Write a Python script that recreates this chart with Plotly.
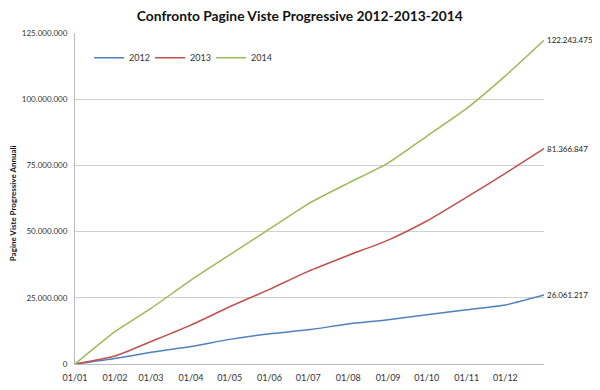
import plotly.graph_objects as go

days = [0, 31, 59, 90, 120, 151, 181, 212, 243, 273, 304, 334, 364]
month_days = [0, 31, 59, 90, 120, 151, 181, 212, 243, 273, 304, 334]
month_labels = ["01/01", "01/02", "01/03", "01/04", "01/05", "01/06",
                "01/07", "01/08", "01/09", "01/10", "01/11", "01/12"]

v2012 = [0, 2100000, 4400000, 6600000, 9300000, 11400000, 12900000,
         15100000, 16700000, 18600000, 20500000, 22300000, 26061217]
v2013 = [0, 3000000, 8500000, 14700000, 21600000, 28200000, 35000000,
         41000000, 46800000, 54000000, 63000000, 72000000, 81366847]
v2014 = [0, 12200000, 21000000, 31700000, 41200000, 51000000, 60500000,
         68300000, 75900000, 86000000, 96500000, 108800000, 122243475]

series = [("2012", v2012, "#4F81BD"), ("2013", v2013, "#C0504D"), ("2014", v2014, "#9BBB59")]

y_ticks = [0, 25000000, 50000000, 75000000, 100000000, 125000000]


def fmt(v):
    return f"{int(v):,}".replace(",", ".")


fig = go.Figure()
for name, vals, col in series:
    fig.add_trace(go.Scatter(x=days, y=vals, mode="lines", name=name,
                             line=dict(color=col, width=1.5, shape="spline", smoothing=0.5)))
    fig.add_annotation(x=days[-1], y=vals[-1], text=fmt(vals[-1]), showarrow=False,
                       xanchor="left", yanchor="middle", xshift=1,
                       font=dict(size=8, color="#222"))

fig.add_annotation(xref="paper", yref="paper", x=-0.132, y=0.486,
                   text="<b>Pagine Viste Progressive Annuali</b>", textangle=-90,
                   showarrow=False, xanchor="center", yanchor="middle",
                   font=dict(size=8, color="#111"))

fig.update_layout(
    width=592, height=382,
    margin=dict(l=67, r=56, t=25, b=26, autoexpand=False),
    paper_bgcolor="white", plot_bgcolor="white",
    font=dict(family="Lato, Open Sans, sans-serif", color="#333"),
    title=dict(text="<b>Confronto Pagine Viste Progressive 2012-2013-2014</b>",
               x=0.493, xanchor="center", y=0.979, yanchor="middle",
               font=dict(size=13.8, color="#111")),
    legend=dict(orientation="h", x=0.03, y=0.925, xanchor="left", yanchor="middle",
                font=dict(size=9, color="#333"), bgcolor="rgba(0,0,0,0)",
                entrywidth=16, entrywidthmode="pixels", itemwidth=30),
    showlegend=True,
)
fig.update_xaxes(range=[0, 364], tickvals=month_days, ticktext=month_labels,
                 showgrid=False, showline=True, linecolor="#BBBBBB", linewidth=1,
                 ticks="", tickfont=dict(size=9, color="#333"), zeroline=False,
                 automargin=False, ticklabelstandoff=5)
fig.update_yaxes(range=[0, 125000000], tickvals=y_ticks, ticktext=[fmt(v) for v in y_ticks],
                 showgrid=True, gridcolor="#D0D0D0", gridwidth=1,
                 showline=True, linecolor="#BBBBBB", linewidth=1, ticks="",
                 tickfont=dict(size=8, color="#333"), zeroline=False,
                 automargin=False, ticklabelstandoff=5)

fig.write_html("out.html")
